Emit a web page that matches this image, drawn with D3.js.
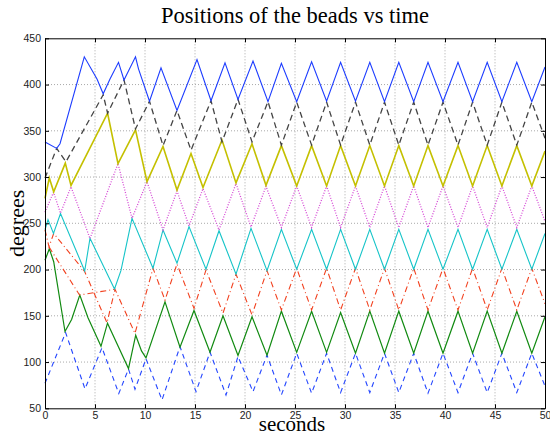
<!DOCTYPE html>
<html>
<head>
<meta charset="utf-8">
<script src="https://cdn.jsdelivr.net/npm/d3@7"></script>
<style>
  html, body { margin: 0; padding: 0; background: #fff; }
  svg { display: block; }
</style>
</head>
<body>
<svg id="chart" width="550" height="437"></svg>
<script>
// Bead positions on the ring (degrees) against time (seconds), one [t, deg] list per bead.
const blueSolid = [[0,338],[1.17,331],[1.5,336],[3.93,430],[5.2,406],[5.82,390],[6.5,406],[7.35,424],[7.9,405],[9.05,430],[9.35,417],[10.45,382],[11.6,418],[13.2,372],[15.2,427],[16.6,382.5],[18.0,423.5],[19.3,384],[20.8,425.5],[22.3,381.5],
  [23.64,423],[25.17,381.5],[26.66,424.5],[28.16,382],[29.56,424],[31.05,382],[32.48,424],[33.95,381.5],[35.38,424],[36.87,381.5],[38.30,424],[39.80,381.5],[41.30,424],[42.76,381.5],[44.22,424],[45.69,381.5],[47.18,424],[48.68,381.5],[50,419]];

const blackDashed = [[0,299],[1.17,331],[2.1,316.5],[5.82,389],[6.26,369],[7.9,405],[9.05,352],[10.45,382],[11.8,334],[13.2,372],[14.6,329],[16.6,382.5],[17.7,338],[19.3,384],[20.7,338],[22.3,381.5],
  [23.64,334.5],[25.17,381],[26.66,334.5],[28.16,381],[29.56,334.5],[31.05,381],[32.48,334.5],[33.95,381],[35.38,334.5],[36.87,381],[38.30,334.5],[39.80,381],[41.30,334.5],[42.76,381],[44.22,334.5],[45.69,381],[47.18,334.5],[48.68,381],[50,342]];

const yellowSolid = [[0,277],[0.43,299],[0.87,284],[2.03,315],[2.6,291],[6.26,369],[7.3,314.6],[9.05,351],[10.2,295],[11.8,333],[13.2,286],[14.6,325.5],[15.8,288.6],[17.7,340],[19.1,293.7],[20.7,336],[22.1,291],
  [23.64,334],[25.17,290.4],[26.66,334],[28.16,290.4],[29.56,334],[31.05,290.4],[32.48,334],[33.95,290.4],[35.38,334],[36.87,290.4],[38.30,334],[39.80,290.4],[41.30,334],[42.76,290.4],[44.22,334],[45.69,290.4],[47.18,334],[48.68,290.4],[50,328]];

const magentaDotted = [[0,262],[0.85,283.5],[1.55,261],[2.6,289.5],[4.5,233.5],[7.3,314.6],[8.7,255.4],[10.2,295],[11.8,242.8],[13.2,285],[14.4,247],[15.8,287.5],[17.4,242.8],[19.1,293],[20.6,246],[22.1,290],
  [23.64,245.5],[25.17,290.4],[26.66,245.5],[28.16,290.4],[29.56,245.5],[31.05,290.4],[32.48,245.5],[33.95,290.4],[35.38,245.5],[36.87,290.4],[38.30,245.5],[39.80,290.4],[41.30,245.5],[42.76,290.4],[44.22,245.5],[45.69,290.4],[47.18,245.5],[48.68,290.4],[50,252]];

const cyanSolid = [[0,243],[0.3,254],[0.85,239],[1.55,260.5],[3.97,198.5],[4.5,233.8],[6.95,179],[7.6,199],[8.7,255.4],[10.8,201.4],[11.8,242.8],[13.2,206.8],[14.4,246.4],[16.1,200.3],[17.4,242],[19.1,195],[20.6,244.6],[22.2,198.8],
  [23.64,243.5],[25.17,200.3],[26.66,243.5],[28.16,200.3],[29.56,243.5],[31.05,200.3],[32.48,243.5],[33.95,200.3],[35.38,243.5],[36.87,200.3],[38.30,243.5],[39.80,200.3],[41.30,243.5],[42.76,200.3],[44.22,243.5],[45.69,200.3],[47.18,243.5],[48.68,200.3],[50,239]];

const redDashDot = [[0,243],[0.4,224.5],[0.87,239],[3.96,198],[6.2,142.4],[7.0,178.7],[9.0,131],[10.8,201.4],[12.0,167],[13.2,206],[14.9,158],[16.1,199.6],[17.8,152.8],[19.1,195],[20.7,151],[22.2,198.8],
  [23.64,156.3],[25.17,201.4],[26.66,156.3],[28.16,201.4],[29.56,156.3],[31.05,201.4],[32.48,156.3],[33.95,201.4],[35.38,156.3],[36.87,201.4],[38.30,156.3],[39.80,201.4],[41.30,156.3],[42.76,201.4],[44.22,156.3],[45.69,201.4],[47.18,156.3],[48.68,201.4],[50,163]];

// second red trace visible during the first seconds
const redDashDotEarly = [[0.4,224.5],[3.45,172.5],[7.0,178.7]];

const greenSolid = [[0,210],[0.43,222.5],[0.87,208.5],[2.0,133],[2.66,146],[3.48,172.5],[4.3,148],[5.6,117],[6.25,142],[8.35,93],[9.07,129],[9.65,112],[10.1,104.5],[12.0,165],[13.5,116],[14.9,155.7],[16.5,110.7],[17.8,150],[19.3,107],[20.7,149],[22.2,107.5],
  [23.64,155],[25.17,110.5],[26.66,155],[28.16,110.5],[29.56,153.5],[31.05,109.5],[32.48,155],[33.95,109.5],[35.38,155],[36.87,109.5],[38.30,155],[39.80,109.5],[41.30,155],[42.76,109.5],[44.22,155],[45.69,109.5],[47.18,155],[48.68,109.5],[50,149]];

const blueDashed = [[0,77],[2.06,131.8],[4.0,71],[5.7,115.5],[7.38,66],[8.35,92.5],[9.0,70.5],[10.1,103.5],[11.7,59],[13.5,116.7],[15.1,68],[16.5,110.7],[18.1,64.3],[19.3,106],[20.8,68],[22.2,107.5],
  [23.64,64.5],[25.17,109.5],[26.66,66.3],[28.16,109.5],[29.56,67],[31.05,109.5],[32.48,67],[33.95,109.5],[35.38,67],[36.87,109.5],[38.30,66.3],[39.80,109.5],[41.30,67],[42.76,109.5],[44.22,67],[45.69,109.5],[47.18,67],[48.68,109.5],[50,74]];

const xTicks = [0, 5, 10, 15, 20, 25, 30, 35, 40, 45, 50];
const yTicks = [50, 100, 150, 200, 250, 300, 350, 400, 450];

const titleText = "Positions of the beads vs time";
const xLabelText = "seconds";
const yLabelText = "degrees";

// series drawing styles
const seriesList = [
  { data: blueDashed,      color: "#2446ff", width: 1.1, dash: "5,4" },
  { data: greenSolid,      color: "#118a11", width: 1.2, dash: null },
  { data: redDashDotEarly, color: "#f2401e", width: 1.1, dash: "6,3,1,3" },
  { data: redDashDot,      color: "#f2401e", width: 1.1, dash: "6,3,1,3" },
  { data: cyanSolid,       color: "#16c4c8", width: 1.1, dash: null },
  { data: magentaDotted,   color: "#d64ad6", width: 1.3, dash: "1,1.6" },
  { data: yellowSolid,     color: "#c4c000", width: 1.6, dash: null },
  { data: blackDashed,     color: "#444444", width: 1.3, dash: "6,4" },
  { data: blueSolid,       color: "#1c3cff", width: 1.1, dash: null }
];

const svg = d3.select("#chart");
const plot = { left: 45, right: 545, top: 38.3, bottom: 408.3 };

const x = d3.scaleLinear().domain([0, 50]).range([plot.left, plot.right]);
const y = d3.scaleLinear().domain([50, 450]).range([plot.bottom, plot.top]);

// dotted grid
const grid = svg.append("g").attr("stroke", "#949494").attr("stroke-width", 0.8).attr("stroke-dasharray", "1,2");
grid.selectAll("line.gx").data(xTicks.slice(1, -1)).join("line")
  .attr("x1", d => x(d)).attr("x2", d => x(d))
  .attr("y1", plot.top).attr("y2", plot.bottom);
grid.selectAll("line.gy").data(yTicks.slice(1, -1)).join("line")
  .attr("y1", d => y(d)).attr("y2", d => y(d))
  .attr("x1", plot.left).attr("x2", plot.right);

// curves
const line = d3.line().x(d => x(d[0])).y(d => y(d[1]));
const curves = svg.append("g").attr("fill", "none");
seriesList.forEach(s => {
  curves.append("path")
    .attr("d", line(s.data))
    .attr("stroke", s.color)
    .attr("stroke-width", s.width)
    .attr("stroke-dasharray", s.dash)
    .attr("stroke-linejoin", "miter");
});

// axes with inward ticks on all four sides
const tickLen = 4;
const axisFont = "'Liberation Sans', Arial, sans-serif";
function styleAxis(g) {
  g.select(".domain").attr("stroke", "#000").attr("stroke-width", 1);
  g.selectAll(".tick line").attr("stroke", "#000").attr("stroke-width", 1);
  g.selectAll(".tick text").attr("fill", "#222").attr("font-family", axisFont).attr("font-size", "10.5px");
}
svg.append("g").attr("transform", `translate(0,${plot.bottom})`)
  .call(d3.axisBottom(x).tickValues(xTicks).tickFormat(d3.format("d")).tickSizeInner(-tickLen).tickSizeOuter(0).tickPadding(3))
  .call(styleAxis);
svg.append("g").attr("transform", `translate(0,${plot.top})`)
  .call(d3.axisTop(x).tickValues(xTicks).tickFormat("").tickSizeInner(-tickLen).tickSizeOuter(0))
  .call(styleAxis);
svg.append("g").attr("transform", `translate(${plot.left},0)`)
  .call(d3.axisLeft(y).tickValues(yTicks).tickFormat(d3.format("d")).tickSizeInner(-tickLen).tickSizeOuter(0).tickPadding(4))
  .call(styleAxis);
svg.append("g").attr("transform", `translate(${plot.right},0)`)
  .call(d3.axisRight(y).tickValues(yTicks).tickFormat("").tickSizeInner(-tickLen).tickSizeOuter(0))
  .call(styleAxis);

// titles
const serif = "'Liberation Serif', 'Times New Roman', serif";
svg.append("text").attr("x", (plot.left + plot.right) / 2).attr("y", 23)
  .attr("text-anchor", "middle").attr("font-family", serif).attr("font-size", "22.5px").attr("fill", "#000")
  .text(titleText);
svg.append("text").attr("x", (plot.left + plot.right) / 2 - 3).attr("y", 431)
  .attr("text-anchor", "middle").attr("font-family", serif).attr("font-size", "21px").attr("fill", "#000")
  .text(xLabelText);
svg.append("text").attr("transform", `translate(24,${(plot.top + plot.bottom) / 2}) rotate(-90)`)
  .attr("text-anchor", "middle").attr("font-family", serif).attr("font-size", "22px").attr("fill", "#000")
  .text(yLabelText);
</script>
</body>
</html>
